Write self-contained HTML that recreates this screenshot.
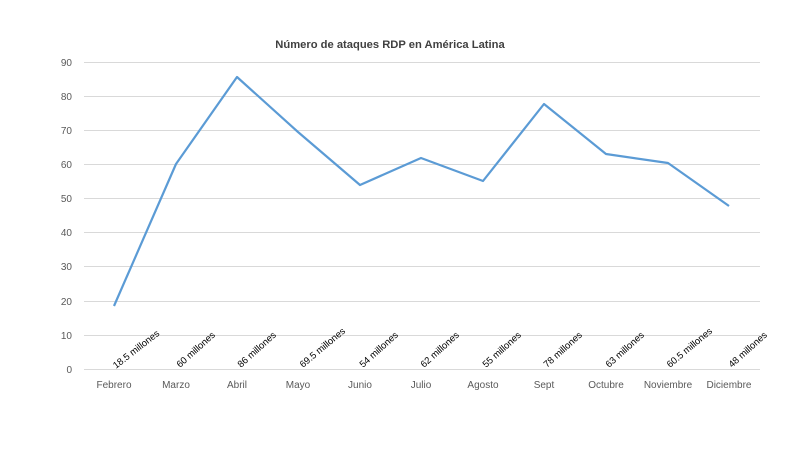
<!DOCTYPE html>
<html><head><meta charset="utf-8"><style>body{margin:0;background:#fff}</style></head>
<body>
<svg width="800" height="445" xmlns="http://www.w3.org/2000/svg" font-family="Liberation Sans, sans-serif">
<rect width="800" height="445" fill="#fff"/>
<text x="390" y="48" text-anchor="middle" font-size="11.2" font-weight="bold" fill="#404040">Número de ataques RDP en América Latina</text>
<g stroke="#d9d9d9" stroke-width="1">
<line x1="84" x2="760" y1="62.5" y2="62.5"/><line x1="84" x2="760" y1="96.5" y2="96.5"/>
<line x1="84" x2="760" y1="130.5" y2="130.5"/><line x1="84" x2="760" y1="164.5" y2="164.5"/>
<line x1="84" x2="760" y1="198.5" y2="198.5"/><line x1="84" x2="760" y1="232.5" y2="232.5"/>
<line x1="84" x2="760" y1="266.5" y2="266.5"/><line x1="84" x2="760" y1="301.5" y2="301.5"/>
<line x1="84" x2="760" y1="335.5" y2="335.5"/><line x1="84" x2="760" y1="369.5" y2="369.5"/>
</g>
<g font-size="10" fill="#595959" text-anchor="end">
<text x="72" y="66">90</text><text x="72" y="100">80</text><text x="72" y="134">70</text>
<text x="72" y="168">60</text><text x="72" y="202">50</text><text x="72" y="236">40</text>
<text x="72" y="270">30</text><text x="72" y="305">20</text><text x="72" y="339">10</text><text x="72" y="373">0</text>
</g>
<g font-size="10" fill="#595959" text-anchor="middle">
<text x="114" y="388">Febrero</text><text x="176" y="388">Marzo</text><text x="237" y="388">Abril</text>
<text x="298" y="388">Mayo</text><text x="360" y="388">Junio</text><text x="421" y="388">Julio</text>
<text x="483" y="388">Agosto</text><text x="544" y="388">Sept</text><text x="606" y="388">Octubre</text>
<text x="668" y="388">Noviembre</text><text x="729" y="388">Diciembre</text>
</g>
<polyline fill="none" stroke="#5b9bd5" stroke-width="2.2" stroke-linejoin="round"
points="114,306 176,164 237,77 298,132 360,185 421,158 483,181 544,104 606,154 668,163 729,206"/>
<g font-size="9.5" fill="#000">
<text transform="translate(116,369) rotate(-38)">18.5 millones</text>
<text transform="translate(180,368) rotate(-42)">60 millones</text>
<text transform="translate(241,368) rotate(-42)">86 millones</text>
<text transform="translate(303,368) rotate(-40)">69.5 millones</text>
<text transform="translate(363,368) rotate(-42)">54 millones</text>
<text transform="translate(424,368) rotate(-42)">62 millones</text>
<text transform="translate(486,368) rotate(-42)">55 millones</text>
<text transform="translate(547,368) rotate(-42)">78 millones</text>
<text transform="translate(609,368) rotate(-42)">63 millones</text>
<text transform="translate(670,368) rotate(-40)">60.5 millones</text>
<text transform="translate(732,368) rotate(-42)">48 millones</text>
</g>
</svg>
</body></html>
